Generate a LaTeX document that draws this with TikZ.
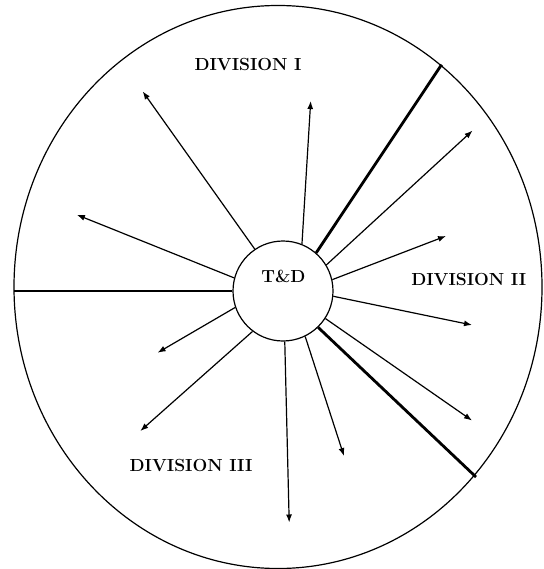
\documentclass[tikz,border=0pt]{standalone}
\usetikzlibrary{arrows.meta,shapes.geometric}
\begin{document}
\begin{tikzpicture}[x=1pt,y=-1pt,
  thinline/.style={line width=1.2pt},
  arrowline/.style={line width=1.2pt,-{Latex[length=8pt,width=6pt]}},
  sepline/.style={line width=2.8pt},
  lbl/.style={font=\fontsize{17.5}{20}\selectfont\bfseries,inner sep=0pt}]
\useasboundingbox (0,0) rectangle (543,569);
\node[ellipse,draw,thinline,minimum width=528pt,minimum height=563pt,inner sep=0pt] (big) at (278,287) {};
\node[circle,draw,thinline,minimum size=100pt,inner sep=0pt,fill=white] (c) at (283,291) {};
\node[lbl] (td) at (283.5,276) {T\&D};
\node[lbl] (d1) at (248,65) {DIVISION I};
\node[lbl] (d2) at (468.7,279) {DIVISION II};
\node[lbl] (d3) at (191,465) {DIVISION III};
% separator ends
\coordinate (s1) at (14,291);
\coordinate (s2) at (441.6,64.6);
\coordinate (s3) at (476,477);
\draw[sepline] (c.180) -- (s1);
\draw[sepline] (c.49) -- (s2);
\draw[sepline] (c.-46.4) -- (s3);
% arrow ends
\coordinate (ea) at (142.7,91.4);
\coordinate (eb) at (310.7,101);
\coordinate (ec) at (472.5,130.6);
\coordinate (ed) at (446,236);
\coordinate (ee) at (472,325);
\coordinate (ef) at (472,420.5);
\coordinate (eg) at (344,456);
\coordinate (eh) at (289.2,522.5);
\coordinate (ei) at (140.3,431);
\coordinate (ej) at (157.6,352.7);
\coordinate (ek) at (76.9,214.8);
\draw[arrowline] (c.124.8) -- (ea);
\draw[arrowline] (c.68.8) -- (eb);
\draw[arrowline] (c.31.5) -- (ec);
\draw[arrowline] (c.13.6) -- (ed);
\draw[arrowline] (c.-6.5) -- (ee);
\draw[arrowline] (c.-33.4) -- (ef);
\draw[arrowline] (c.-64.7) -- (eg);
\draw[arrowline] (c.-88.2) -- (eh);
\draw[arrowline] (c.-127.6) -- (ei);
\draw[arrowline] (c.199.1) -- (ej);
\draw[arrowline] (c.165.4) -- (ek);
\end{tikzpicture}
\end{document}
